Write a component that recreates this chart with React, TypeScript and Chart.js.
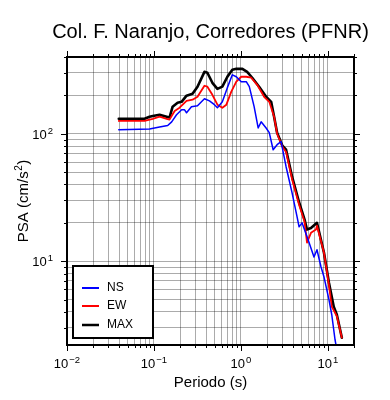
import React, { useEffect, useRef } from "react";
import { Chart, registerables } from "chart.js";
Chart.register(...registerables);

const TITLE = "Col. F. Naranjo, Corredores (PFNR)";
const X_TITLE = "Periodo (s)";
const Y_TITLE_MAIN = "PSA (cm/s";
const Y_TITLE_SUP = "2";
const Y_TITLE_END = ")";

const X_MIN = 0.01;
const X_MAX = 20;
const Y_MIN = 2.2;
const Y_MAX = 400;

const xMajorExps = [-2, -1, 0, 1];
const yMajorExps = [1, 2];

const legendLabels = ["NS", "EW", "MAX"];
const seriesColors = ["#0000ff", "#ff0000", "#000000"];

const nsPeriod = [0.0394, 0.089, 0.116, 0.144, 0.16, 0.182, 0.208, 0.225, 0.237, 0.27, 0.317, 0.381, 0.435, 0.496, 0.537, 0.612, 0.699, 0.797, 0.886, 1.01, 1.153, 1.25, 1.42, 1.58, 1.71, 1.95, 2.12, 2.35, 2.61, 2.9, 3.31, 3.88, 4.43, 4.67, 5.05, 5.76, 6.93, 7.5, 8.34, 9.02, 10.3, 11.1, 12.1, 12.7];
const nsPSA = [107.5, 109, 113, 116, 124, 141, 154, 154, 146, 163, 166, 188, 181, 169, 160, 178, 230, 290, 280, 256, 256, 234, 163, 111, 124, 111, 102, 74.9, 82, 86.6, 55.1, 34.4, 22.3, 18.6, 20.0, 15.6, 10.8, 12.3, 9.05, 7.56, 4.99, 3.8, 2.42, 2.02];

const ewPeriod = [0.0394, 0.078, 0.097, 0.116, 0.14, 0.151, 0.173, 0.197, 0.237, 0.278, 0.317, 0.381, 0.412, 0.47, 0.537, 0.612, 0.681, 0.776, 0.886, 1.01, 1.153, 1.315, 1.54, 1.85, 2.12, 2.41, 2.61, 3.0, 3.31, 3.88, 4.67, 5.4, 5.76, 6.4, 7.31, 7.5, 9.02, 10.3, 11.1, 12.7, 14.5];
const ewPSA = [126, 126, 131, 136, 131, 129, 151, 160, 181, 185, 195, 238, 234, 202, 169, 160, 169, 214, 256, 280, 280, 275, 242, 195, 178, 136, 100, 79, 72, 44, 27.7, 20.4, 14.0, 16.7, 17.7, 19, 11.7, 6.5, 4.4, 3.7, 2.51];

const maxPeriod = [0.0394, 0.078, 0.089, 0.097, 0.116, 0.14, 0.151, 0.164, 0.187, 0.208, 0.237, 0.278, 0.317, 0.381, 0.412, 0.47, 0.537, 0.612, 0.699, 0.797, 0.886, 1.04, 1.18, 1.35, 1.62, 1.95, 2.23, 2.41, 2.61, 3.0, 3.31, 3.88, 4.67, 5.4, 5.76, 6.4, 7.5, 9.02, 10.3, 11.7, 12.7, 14.5];
const maxPSA = [131, 131, 136, 138, 141, 136, 134, 163, 175, 178, 199, 206, 234, 306, 301, 251, 225, 234, 280, 318, 323, 323, 306, 275, 234, 195, 178, 136, 102, 80.5, 75, 46, 29, 21.2, 17.7, 18.2, 20.0, 11.7, 6.78, 4.4, 3.8, 2.51];

const FONT = "'Liberation Sans', Arial, Helvetica, sans-serif";

function logTicks(min: number, max: number): number[] {
  const out: number[] = [];
  for (let e = Math.floor(Math.log10(min)); e <= Math.ceil(Math.log10(max)); e++) {
    for (let m = 1; m < 10; m++) {
      const v = +(m * Math.pow(10, e)).toPrecision(6);
      if (v >= min * 0.9999 && v <= max * 1.0001) out.push(v);
    }
  }
  return out;
}

function toPts(xs: number[], ys: number[]) {
  return xs.map((x, i) => ({ x, y: ys[i] }));
}

function isMajor(v: number) {
  const l = Math.log10(v);
  return Math.abs(l - Math.round(l)) < 1e-6;
}

function drawPow(ctx: CanvasRenderingContext2D, exp: number, x: number, y: number, align: "center" | "right") {
  const base = "10";
  const sup = exp < 0 ? "\u2212" + String(-exp) : String(exp);
  ctx.textAlign = "left";
  ctx.textBaseline = "alphabetic";
  ctx.font = `13px ${FONT}`;
  const wb = ctx.measureText(base).width;
  ctx.font = `9.5px ${FONT}`;
  const ws = ctx.measureText(sup).width;
  const total = wb + 1 + ws;
  const x0 = align === "center" ? x - total / 2 : x - total;
  ctx.font = `13px ${FONT}`;
  ctx.fillText(base, x0, y);
  ctx.font = `9.5px ${FONT}`;
  ctx.fillText(sup, x0 + wb + 1, y - 5);
}

const decorPlugin = {
  id: "decor",
  afterDraw(chart: any) {
    const ctx: CanvasRenderingContext2D = chart.ctx;
    const { left, right, top, bottom } = chart.chartArea;
    const xs = chart.scales.x;
    const ys = chart.scales.y;
    ctx.save();
    ctx.fillStyle = "#000";
    ctx.strokeStyle = "#000";

    // ticks on all four sides (outward)
    ctx.lineWidth = 1;
    ctx.beginPath();
    for (const v of logTicks(X_MIN, X_MAX)) {
      const px = Math.round(xs.getPixelForValue(v)) + 0.5;
      const len = isMajor(v) ? 6 : 3;
      ctx.moveTo(px, bottom);
      ctx.lineTo(px, bottom + len);
      ctx.moveTo(px, top);
      ctx.lineTo(px, top - len);
    }
    for (const v of logTicks(Y_MIN, Y_MAX)) {
      const py = Math.round(ys.getPixelForValue(v)) + 0.5;
      const len = isMajor(v) ? 6 : 3;
      ctx.moveTo(left, py);
      ctx.lineTo(left - len, py);
      ctx.moveTo(right, py);
      ctx.lineTo(right + len, py);
    }
    ctx.stroke();

    // frame
    ctx.lineWidth = 2;
    ctx.strokeRect(left, top, right - left, bottom - top);

    // tick labels
    for (const e of xMajorExps) {
      const px = xs.getPixelForValue(Math.pow(10, e));
      drawPow(ctx, e, px, bottom + 23, "center");
    }
    for (const e of yMajorExps) {
      const py = ys.getPixelForValue(Math.pow(10, e));
      drawPow(ctx, e, left - 14, py + 5, "right");
    }

    // title
    ctx.textAlign = "center";
    ctx.textBaseline = "alphabetic";
    ctx.font = `20px ${FONT}`;
    ctx.fillText(TITLE, (left + right) / 2, 38);

    // x title
    ctx.font = `15px ${FONT}`;
    ctx.fillText(X_TITLE, (left + right) / 2, 387);

    // y title
    ctx.save();
    ctx.translate(28, (top + bottom) / 2);
    ctx.rotate(-Math.PI / 2);
    ctx.textAlign = "left";
    ctx.font = `15px ${FONT}`;
    const w1 = ctx.measureText(Y_TITLE_MAIN).width;
    const w3 = ctx.measureText(Y_TITLE_END).width;
    ctx.font = `10px ${FONT}`;
    const w2 = ctx.measureText(Y_TITLE_SUP).width;
    const tot = w1 + w2 + w3 + 1;
    let cx = -tot / 2;
    ctx.font = `15px ${FONT}`;
    ctx.fillText(Y_TITLE_MAIN, cx, 0);
    cx += w1;
    ctx.font = `10px ${FONT}`;
    ctx.fillText(Y_TITLE_SUP, cx + 0.5, -6);
    cx += w2 + 1;
    ctx.font = `15px ${FONT}`;
    ctx.fillText(Y_TITLE_END, cx, 0);
    ctx.restore();

    // legend box
    const bx = left + 6, by = bottom - 79, bw = 80, bh = 72;
    ctx.fillStyle = "#fff";
    ctx.fillRect(bx, by, bw, bh);
    ctx.lineWidth = 2;
    ctx.strokeStyle = "#000";
    ctx.strokeRect(bx, by, bw, bh);
    const rowY = [288, 306, 325];
    chart.data.datasets.forEach((ds: any, i: number) => {
      const yy = rowY[i];
      ctx.strokeStyle = ds.borderColor;
      ctx.lineWidth = i === 2 ? 2.5 : 2;
      ctx.beginPath();
      ctx.moveTo(bx + 9, yy);
      ctx.lineTo(bx + 26, yy);
      ctx.stroke();
      ctx.fillStyle = "#000";
      ctx.font = `12px ${FONT}`;
      ctx.textAlign = "left";
      ctx.textBaseline = "middle";
      ctx.fillText(ds.label, bx + 34, yy);
    });
    ctx.restore();
  },
};

export default function App() {
  const ref = useRef<HTMLCanvasElement>(null);
  useEffect(() => {
    if (!ref.current) return;
    const gridColor = "rgba(0,0,0,0.33)";
    const chart = new Chart(ref.current, {
      type: "line",
      data: {
        datasets: [
          { label: legendLabels[0], data: toPts(nsPeriod, nsPSA), borderColor: seriesColors[0], borderWidth: 1.5 },
          { label: legendLabels[1], data: toPts(ewPeriod, ewPSA), borderColor: seriesColors[1], borderWidth: 1.8 },
          { label: legendLabels[2], data: toPts(maxPeriod, maxPSA), borderColor: seriesColors[2], borderWidth: 2.6 },
        ],
      },
      options: {
        responsive: false,
        animation: false,
        parsing: true,
        layout: { padding: { top: 57, right: 36, left: 0, bottom: 0 } },
        elements: { point: { radius: 0 }, line: { tension: 0, borderJoinStyle: "round", borderCapStyle: "round" } },
        plugins: { legend: { display: false }, title: { display: false }, tooltip: { enabled: false } },
        scales: {
          x: {
            type: "logarithmic",
            min: X_MIN,
            max: X_MAX,
            afterFit: (s: any) => { s.height = 55; },
            afterBuildTicks: (s: any) => { s.ticks = logTicks(X_MIN, X_MAX).map((v) => ({ value: v })); },
            ticks: { display: false, autoSkip: false },
            grid: { color: gridColor, lineWidth: 1, drawTicks: false },
            border: { display: false },
          },
          y: {
            type: "logarithmic",
            min: Y_MIN,
            max: Y_MAX,
            afterFit: (s: any) => { s.width = 67; },
            afterBuildTicks: (s: any) => { s.ticks = logTicks(Y_MIN, Y_MAX).map((v) => ({ value: v })); },
            ticks: { display: false, autoSkip: false },
            grid: { color: gridColor, lineWidth: 1, drawTicks: false },
            border: { display: false },
          },
        },
      } as any,
      plugins: [decorPlugin],
    });
    return () => chart.destroy();
  }, []);
  return (
    <div style={{ position: "fixed", left: 0, top: 0, width: 390, height: 400, background: "#fff" }}>
      <canvas ref={ref} width={390} height={400} style={{ display: "block", width: 390, height: 400 }} />
    </div>
  );
}
